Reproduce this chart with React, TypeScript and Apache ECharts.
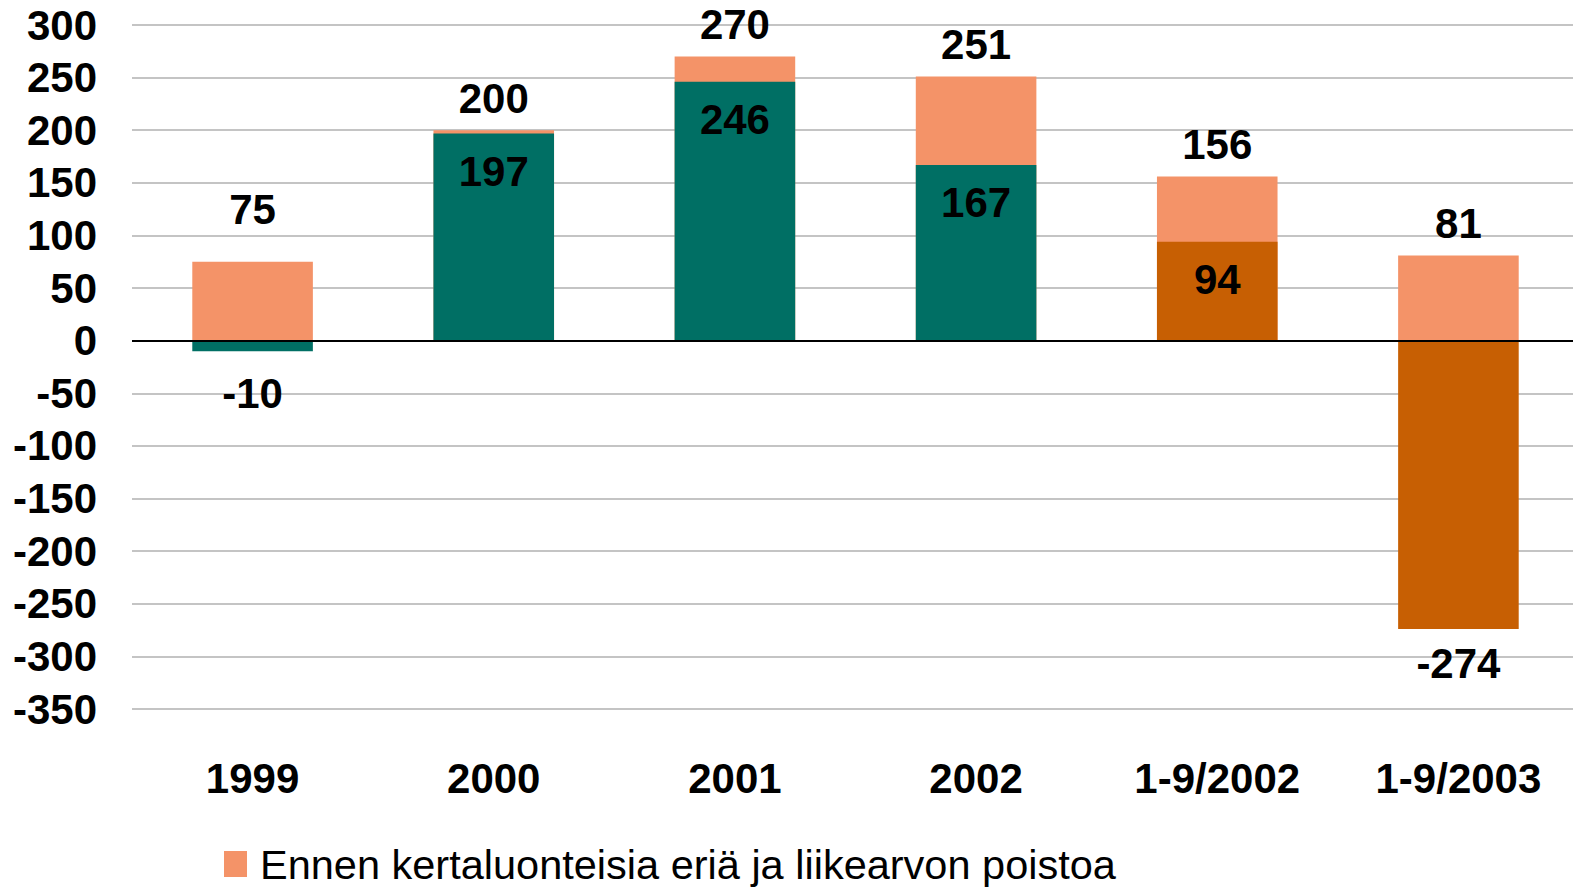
import React, { useEffect, useRef } from "react";
import * as echarts from "echarts";

const categories = ["1999", "2000", "2001", "2002", "1-9/2002", "1-9/2003"];
const beforeOneOffs = [75, 200, 270, 251, 156, 81];
const reported = [-10, 197, 246, 167, 94, -274];
const reportedColors = ["#006F64", "#006F64", "#006F64", "#006F64", "#C75F03", "#C75F03"];
const yTicks = { min: -350, max: 300, interval: 50 };
const legendName = "Ennen kertaluonteisia eriä ja liikearvon poistoa";
const reportedName = "Raportoitu";

export default function App() {
  const ref = useRef<HTMLDivElement>(null);
  useEffect(() => {
    if (!ref.current) return;
    const chart = echarts.init(ref.current, undefined, { renderer: "svg" });
    const font = "'Liberation Sans', Arial, sans-serif";
    chart.setOption({
      animation: false,
      textStyle: { fontFamily: font },
      grid: { left: 132, right: 0, top: 25, bottom: 180, containLabel: false },
      legend: {
        data: [legendName],
        left: 219,
        top: 838,
        itemWidth: 23,
        itemHeight: 26,
        icon: "rect",
        textStyle: { fontSize: 41.5, color: "#000", fontFamily: font, padding: [0, 0, 0, 8] },
      },
      xAxis: {
        type: "category",
        data: categories,
        axisLine: { show: false, onZero: false },
        axisTick: { show: false },
        axisLabel: { fontSize: 42, fontWeight: "bold", color: "#000", margin: 48, fontFamily: font },
        splitLine: { show: false },
      },
      yAxis: {
        type: "value",
        min: yTicks.min,
        max: yTicks.max,
        interval: yTicks.interval,
        axisLine: { show: false },
        axisTick: { show: false },
        axisLabel: { fontSize: 42, fontWeight: "bold", color: "#000", margin: 35, fontFamily: font },
        splitLine: { lineStyle: { color: "#C4C4C4", width: 2 } },
      },
      series: [
        {
          name: legendName,
          type: "bar",
          barWidth: "50%",
          barGap: "-100%",
          itemStyle: { color: "#F49368" },
          data: beforeOneOffs.map((v, i) => ({
            value: v,
            label: i === 0 ? { distance: 31 } : undefined,
          })),
          label: {
            show: true,
            position: "top",
            distance: 11,
            fontSize: 42,
            fontWeight: "bold",
            color: "#000",
            fontFamily: font,
          },
          markLine: {
            silent: true,
            symbol: "none",
            label: { show: false },
            lineStyle: { color: "#000", width: 2, type: "solid" },
            data: [{ yAxis: 0 }],
          },
          z: 2,
        },
        {
          name: reportedName,
          type: "bar",
          barWidth: "50%",
          barGap: "-100%",
          data: reported.map((v, i) => ({
            value: v,
            itemStyle: { color: reportedColors[i] },
            label: v < 0 ? { position: "bottom", distance: i === 0 ? 21 : 13 } : undefined,
          })),
          label: {
            show: true,
            position: "insideTop",
            distance: 17,
            fontSize: 42,
            fontWeight: "bold",
            color: "#000",
            fontFamily: font,
          },
          z: 3,
        },
      ],
    });
    return () => chart.dispose();
  }, []);
  return (
    <div
      style={{ position: "fixed", left: 0, top: 0, width: 1573, height: 889, overflow: "hidden", background: "#fff" }}
    >
      <div ref={ref} style={{ position: "absolute", left: 0, top: 0, width: 1579, height: 889 }} />
    </div>
  );
}
